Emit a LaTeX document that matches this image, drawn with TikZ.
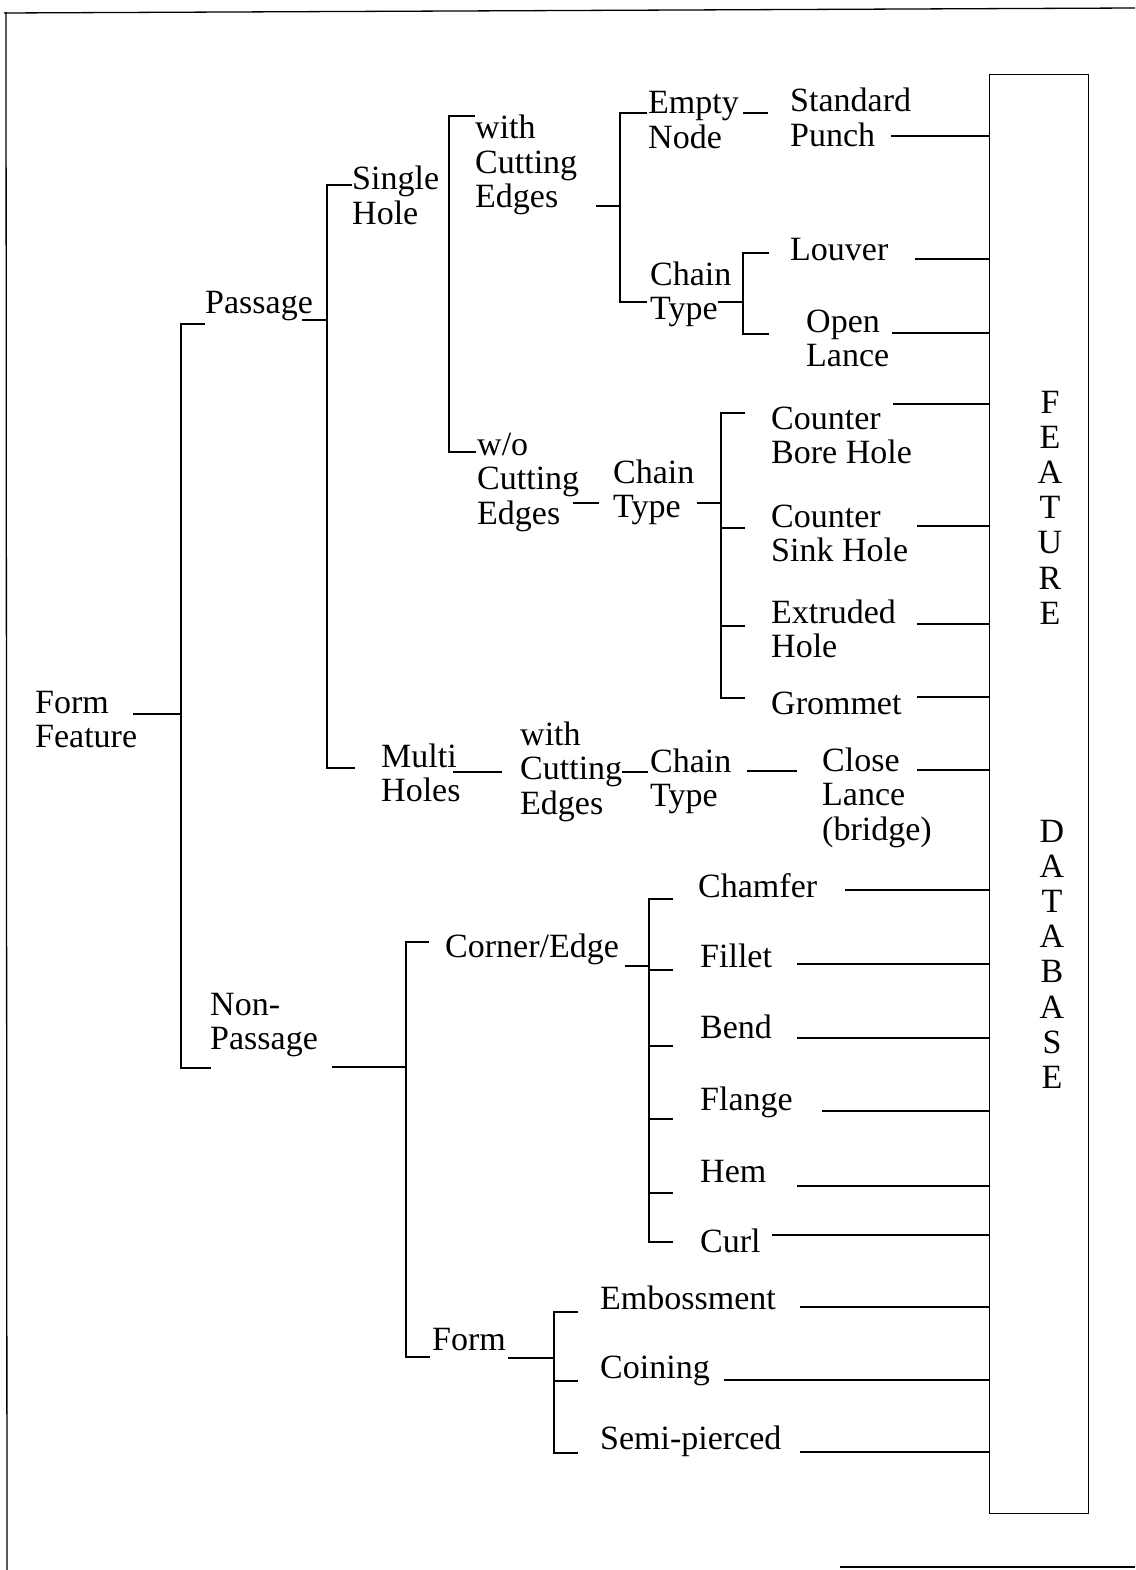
\documentclass[tikz,border=0pt]{standalone}
\usepackage{fontspec}
\setmainfont{Liberation Serif}
\newcommand\mltwo[2]{\vtop{\hbox{#1}\hbox{#2}}}
\newcommand\mlthree[3]{\vtop{\hbox{#1}\hbox{#2}\hbox{#3}}}
\newcommand\vword[1]{\vtop{\baselineskip=35.2pt\halign{\hfil##\hfil\cr#1\crcr}}}
\tikzset{
  tx/.style={anchor=base west, inner sep=0pt, font=\fontsize{34}{34.5}\selectfont},
  ln/.style={line width=1.3pt},
  frame/.style={line width=1.3pt}
}
\begin{document}
\begin{tikzpicture}[x=1pt,y=-1pt]
\useasboundingbox (0,0) rectangle (1135,1570);
% page frame
\draw[frame] (4,13) -- (1135,8);
\draw[frame] (6,12) -- (7,1570);
\draw[frame] (840,1567) -- (1135,1567);
% database box
\node[draw, ln, inner sep=0pt, minimum width=99pt, minimum height=1439pt, anchor=north west] (db) at (989,74) {};
\node[tx, anchor=base] (feat) at (1050,413) {\vword{F\cr E\cr A\cr T\cr U\cr R\cr E}};
\node[tx, anchor=base] (data) at (1052,842) {\vword{D\cr A\cr T\cr A\cr B\cr A\cr S\cr E}};
% texts
\node[tx] (ff) at (35,713) {\mltwo{Form}{Feature}};
\node[tx] (pas) at (205,313) {Passage};
\node[tx] (np) at (210,1015) {\mltwo{Non-}{Passage}};
\node[tx] (sh) at (352,190) {\mltwo{Single}{Hole}};
\node[tx] (mh) at (381,767) {\mltwo{Multi}{Holes}};
\node[tx] (wce) at (475,139) {\mlthree{with}{Cutting}{Edges}};
\node[tx] (woce) at (477,455) {\mlthree{w/o}{Cutting}{Edges}};
\node[tx] (ctb) at (613,483) {\mltwo{Chain}{Type}};
\node[tx] (mwce) at (520,745) {\mlthree{with}{Cutting}{Edges}};
\node[tx] (ctc) at (650,772) {\mltwo{Chain}{Type}};
\node[tx] (en) at (648,114) {\mltwo{Empty}{Node}};
\node[tx] (cta) at (650,285) {\mltwo{Chain}{Type}};
\node[tx] (sp) at (790,112) {\mltwo{Standard}{Punch}};
\node[tx] (lv) at (790,260) {Louver};
\node[tx] (ol) at (806,332) {\mltwo{Open}{Lance}};
\node[tx] (cb) at (771,429) {\mltwo{Counter}{Bore Hole}};
\node[tx] (cs) at (771,527) {\mltwo{Counter}{Sink Hole}};
\node[tx] (eh) at (771,623) {\mltwo{Extruded}{Hole}};
\node[tx] (gr) at (771,714) {Grommet};
\node[tx] (cl) at (822,771) {\mlthree{Close}{Lance}{(bridge)}};
\node[tx] (ce) at (445,957) {Corner/Edge};
\node[tx] (fm) at (432,1350) {Form};
\node[tx] (ch) at (698,897) {Chamfer};
\node[tx] (fi) at (700,967) {Fillet};
\node[tx] (be) at (700,1038) {Bend};
\node[tx] (fl) at (700,1110) {Flange};
\node[tx] (he) at (700,1182) {Hem};
\node[tx] (cu) at (700,1252) {Curl};
\node[tx] (em) at (600,1309) {Embossment};
\node[tx] (co) at (600,1378) {Coining};
\node[tx] (spi) at (600,1449) {Semi-pierced};
% bracket spines (top / bottom)
\coordinate (b1t) at (181,324);  \coordinate (b1b) at (181,1068);
\coordinate (b2t) at (327,185);  \coordinate (b2b) at (327,768);
\coordinate (b3t) at (449,116);  \coordinate (b3b) at (449,452);
\coordinate (b4t) at (620,113);  \coordinate (b4b) at (620,302);
\coordinate (b5t) at (743,253);  \coordinate (b5b) at (743,334);
\coordinate (b6t) at (721,413);  \coordinate (b6b) at (721,698);
\coordinate (b7t) at (406,942);  \coordinate (b7b) at (406,1357);
\coordinate (b8t) at (649,899);  \coordinate (b8b) at (649,1242);
\coordinate (b9t) at (554,1312); \coordinate (b9b) at (554,1453);
\draw[ln] (b1t) ++(24,0) -- (b1t) -- (b1b) -- ++(30,0);
\draw[ln] (b2t) ++(25,0) -- (b2t) -- (b2b) -- ++(28,0);
\draw[ln] (b3t) ++(26,0) -- (b3t) -- (b3b) -- ++(27,0);
\draw[ln] (b4t) ++(27,0) -- (b4t) -- (b4b) -- ++(27,0);
\draw[ln] (b5t) ++(26,0) -- (b5t) -- (b5b) -- ++(26,0);
\draw[ln] (b6t) ++(24,0) -- (b6t) -- (b6b) -- ++(24,0);
\draw[ln] (721,528) -- ++(24,0);
\draw[ln] (721,626) -- ++(24,0);
\draw[ln] (b7t) ++(23,0) -- (b7t) -- (b7b) -- ++(24,0);
\draw[ln] (b8t) ++(24,0) -- (b8t) -- (b8b) -- ++(24,0);
\draw[ln] (649,970) -- ++(24,0);
\draw[ln] (649,1046) -- ++(24,0);
\draw[ln] (649,1119) -- ++(24,0);
\draw[ln] (649,1193) -- ++(24,0);
\draw[ln] (b9t) ++(24,0) -- (b9t) -- (b9b) -- ++(24,0);
\draw[ln] (554,1381) -- ++(24,0);
% short links
\coordinate (l1) at (133,714);  \draw[ln] (l1) -- (l1 -| b1t);
\coordinate (l2) at (302,320);  \draw[ln] (l2) -- (l2 -| b2t);
\coordinate (l3) at (596,206);  \draw[ln] (l3) -- (l3 -| b4t);
\coordinate (l4) at (743,113);  \draw[ln] (l4) -- ++(25,0);
\coordinate (l5) at (718,302);  \draw[ln] (l5) -- (l5 -| b5t);
\coordinate (l6) at (573,503);  \draw[ln] (l6) -- ++(26,0);
\coordinate (l7) at (697,503);  \draw[ln] (l7) -- (l7 -| b6t);
\coordinate (l8) at (453,772);  \draw[ln] (l8) -- ++(49,0);
\coordinate (l9) at (622,772);  \draw[ln] (l9) -- ++(26,0);
\coordinate (l10) at (747,771); \draw[ln] (l10) -- ++(50,0);
\coordinate (l11) at (332,1067); \draw[ln] (l11) -- (l11 -| b7t);
\coordinate (l12) at (625,966); \draw[ln] (l12) -- (l12 -| b8t);
\coordinate (l13) at (508,1358); \draw[ln] (l13) -- (l13 -| b9t);
% links into the database box
\foreach \n/\x/\y in {r1/891/136, r2/915/259, r3/892/333, r4/893/404, r5/917/526, r6/917/624, r7/917/697, r8/917/770, r9/845/890, r10/797/964, r11/797/1038, r12/822/1111, r13/797/1186, r14/772/1235, r15/800/1307, r16/724/1380, r17/800/1452}{
  \coordinate (\n) at (\x,\y);
  \draw[ln] (\n) -- (\n -| db.west);
}
\end{tikzpicture}
\end{document}
